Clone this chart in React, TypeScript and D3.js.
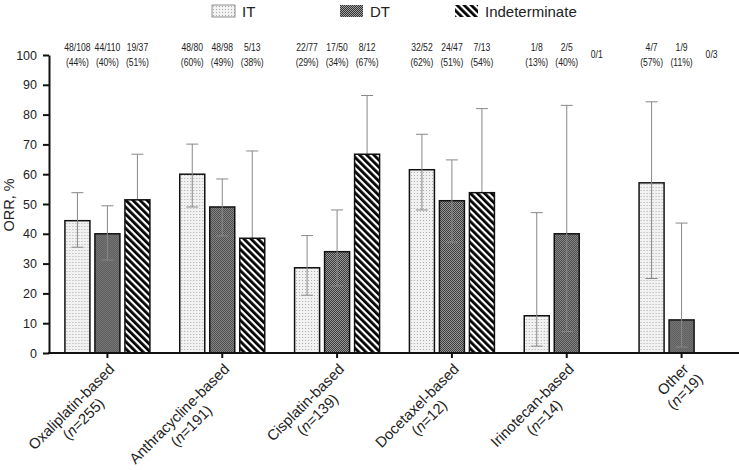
import React, { useEffect, useRef } from 'react';
import * as d3 from 'd3';

// categories and group sizes
const categories = ['Oxaliplatin-based', 'Anthracycline-based', 'Cisplatin-based', 'Docetaxel-based', 'Irinotecan-based', 'Other'];
const categoryN = ['255', '191', '139', '12', '14', '19'];
const seriesNames = ['IT', 'DT', 'Indeterminate'];

// ORR % per series
const itValues = [44.4, 60.0, 28.6, 61.5, 12.5, 57.1];
const dtValues = [40.0, 49.0, 34.0, 51.1, 40.0, 11.1];
const indValues = [51.4, 38.5, 66.7, 53.8, 0, 0];

// 95% CI [low, high]
const itCI = [[35.5, 53.8], [49.0, 70.1], [19.4, 39.4], [48.0, 73.4], [2.3, 47.1], [25.0, 84.3]];
const dtCI = [[31.2, 49.4], [39.3, 58.4], [22.5, 48.0], [37.2, 64.8], [7.2, 83.1], [2.0, 43.6]];
const indCI = [[36.0, 66.7], [17.0, 67.8], [39.0, 86.4], [29.0, 82.0], null, null];

// responders / total
const itCounts = ['48/108', '48/80', '22/77', '32/52', '1/8', '4/7'];
const dtCounts = ['44/110', '48/98', '17/50', '24/47', '2/5', '1/9'];
const indCounts = ['19/37', '5/13', '8/12', '7/13', '0/1', '0/3'];
const itPct = ['44%', '60%', '29%', '62%', '13%', '57%'];
const dtPct = ['40%', '49%', '34%', '51%', '40%', '11%'];
const indPct = ['51%', '38%', '67%', '54%', null, null];

const yTicks = [0, 10, 20, 30, 40, 50, 60, 70, 80, 90, 100];

const W = 739;
const H = 470;
const FONT = '"Liberation Sans", Arial, sans-serif';

const App = () => {
  const svgRef = useRef(null);

  useEffect(() => {
    const svg = d3.select(svgRef.current);
    svg.selectAll('*').remove();

    const rows = categories.map((c, i) => ({
      cat: c,
      n: categoryN[i],
      bars: [
        { s: 'IT', v: itValues[i], ci: itCI[i], count: itCounts[i], pct: itPct[i] },
        { s: 'DT', v: dtValues[i], ci: dtCI[i], count: dtCounts[i], pct: dtPct[i] },
        { s: 'Indeterminate', v: indValues[i], ci: indCI[i], count: indCounts[i], pct: indPct[i] },
      ],
    }));

    const axisX = 49;
    const x0 = d3.scaleBand().domain(categories).range([50, 739]).padding(0);
    const x1 = d3.scaleBand().domain(seriesNames).range([-42.5, 42.5]).paddingInner(1 / 6);
    const y = d3.scaleLinear().domain([0, 100]).range([353, 55]);
    const cx = (c) => x0(c) + x0.bandwidth() / 2;

    // patterns
    const defs = svg.append('defs');
    const pIT = defs.append('pattern').attr('id', 'pIT').attr('patternUnits', 'userSpaceOnUse')
      .attr('width', 3).attr('height', 3);
    pIT.append('rect').attr('width', 3).attr('height', 3).attr('fill', '#f2f2f2');
    pIT.append('rect').attr('x', 1).attr('y', 1).attr('width', 1).attr('height', 1).attr('fill', '#aaa');

    const pDT = defs.append('pattern').attr('id', 'pDT').attr('patternUnits', 'userSpaceOnUse')
      .attr('width', 2).attr('height', 2);
    pDT.append('rect').attr('width', 2).attr('height', 2).attr('fill', '#a0a0a0');
    pDT.append('rect').attr('width', 1).attr('height', 1).attr('fill', '#333');
    pDT.append('rect').attr('x', 1).attr('y', 1).attr('width', 1).attr('height', 1).attr('fill', '#333');

    const pIn = defs.append('pattern').attr('id', 'pIN').attr('patternUnits', 'userSpaceOnUse')
      .attr('width', 5).attr('height', 5).attr('patternTransform', 'rotate(-45)');
    pIn.append('rect').attr('width', 5).attr('height', 5).attr('fill', '#fff');
    pIn.append('rect').attr('width', 2.8).attr('height', 5).attr('fill', '#000');

    const fillFor = (s) => (s === 'IT' ? 'url(#pIT)' : s === 'DT' ? 'url(#pDT)' : 'url(#pIN)');

    // legend
    const legendPos = [212, 340, 455];
    seriesNames.forEach((s, i) => {
      const lg = svg.append('g').attr('transform', `translate(${legendPos[i]},5)`);
      lg.append('rect').attr('width', 23).attr('height', 12).attr('fill', fillFor(s))
        .attr('stroke', s === 'IT' ? '#777' : 'none').attr('stroke-width', 0.8);
      lg.append('text').attr('x', 30).attr('y', 11.5).attr('font-family', FONT)
        .attr('font-size', 15).attr('fill', '#222').text(s);
    });

    const groups = svg.selectAll('.grp').data(rows).enter().append('g')
      .attr('class', 'grp')
      .attr('transform', (d) => `translate(${cx(d.cat)},0)`);

    // IT and DT bars
    groups.selectAll('.bar').data((d) => d.bars.filter((b) => b.s !== 'Indeterminate' && b.v > 0))
      .enter().append('rect')
      .attr('x', (b) => x1(b.s)).attr('width', x1.bandwidth())
      .attr('y', (b) => y(b.v)).attr('height', (b) => y(0) - y(b.v))
      .attr('fill', (b) => fillFor(b.s)).attr('stroke', '#111').attr('stroke-width', 1.5);

    // error bars
    const eb = groups.selectAll('.eb').data((d) => d.bars.filter((b) => b.ci)).enter().append('g')
      .attr('transform', (b) => `translate(${x1(b.s) + x1.bandwidth() / 2},0)`)
      .attr('stroke', '#888').attr('stroke-width', 1);
    eb.append('line').attr('y1', (b) => y(b.ci[0])).attr('y2', (b) => y(b.ci[1]));
    eb.append('line').attr('x1', -6).attr('x2', 6).attr('y1', (b) => y(b.ci[1])).attr('y2', (b) => y(b.ci[1]));
    eb.append('line').attr('x1', -6).attr('x2', 6).attr('y1', (b) => y(b.ci[0])).attr('y2', (b) => y(b.ci[0]));

    // Indeterminate bars on top
    groups.selectAll('.ibar').data((d) => d.bars.filter((b) => b.s === 'Indeterminate' && b.v > 0))
      .enter().append('rect')
      .attr('x', (b) => x1(b.s)).attr('width', x1.bandwidth())
      .attr('y', (b) => y(b.v)).attr('height', (b) => y(0) - y(b.v))
      .attr('fill', (b) => fillFor(b.s)).attr('stroke', '#111').attr('stroke-width', 1.5);

    // count labels (condensed)
    groups.selectAll('.lab').data((d) => d.bars).enter().append('text')
      .attr('text-anchor', 'middle').attr('font-family', FONT).attr('font-size', 10).attr('fill', '#222')
      .attr('transform', (b) => `translate(${x1(b.s) + x1.bandwidth() / 2},0) scale(0.86,1)`)
      .each(function (b) {
        const t = d3.select(this);
        if (b.pct) {
          t.append('tspan').attr('x', 0).attr('y', 51).text(b.count);
          t.append('tspan').attr('x', 0).attr('y', 66).text(`(${b.pct})`);
        } else {
          t.attr('y', 58).text(b.count);
        }
      });

    // axes
    const yAxis = svg.append('g').attr('transform', `translate(${axisX},0)`)
      .call(d3.axisLeft(y).tickValues(yTicks).tickSize(6).tickSizeOuter(0).tickPadding(6));
    yAxis.select('.domain').attr('stroke-width', 2).attr('stroke', '#111');
    yAxis.selectAll('.tick line').attr('stroke-width', 2).attr('stroke', '#111');
    yAxis.selectAll('text').attr('font-family', FONT).attr('font-size', 12.5).attr('fill', '#222');

    svg.append('line').attr('x1', axisX - 1).attr('x2', W).attr('y1', y(0)).attr('y2', y(0))
      .attr('stroke', '#111').attr('stroke-width', 2);
    svg.selectAll('.xt').data(categories).enter().append('line')
      .attr('x1', (c) => cx(c)).attr('x2', (c) => cx(c)).attr('y1', y(0)).attr('y2', y(0) + 5)
      .attr('stroke', '#111').attr('stroke-width', 2);

    svg.append('text').attr('transform', `translate(14,${(y(0) + y(100)) / 2 + 1}) rotate(-90)`)
      .attr('text-anchor', 'middle').attr('font-family', FONT).attr('font-size', 14.5).attr('fill', '#222')
      .text('ORR, %');

    // category labels (rotated, two centred lines)
    rows.forEach((r) => {
      const g = svg.append('g').attr('transform', `translate(${cx(r.cat) + 8},${y(0) + 17}) rotate(-45)`);
      const t1 = g.append('text').attr('text-anchor', 'end').attr('font-family', FONT)
        .attr('font-size', 14.8).attr('fill', '#222').attr('x', 0).attr('y', 0).text(r.cat);
      const w = t1.node().getComputedTextLength();
      const t2 = g.append('text').attr('text-anchor', 'middle').attr('font-family', FONT)
        .attr('font-size', 14.8).attr('fill', '#222').attr('x', -w / 2).attr('y', 17);
      t2.append('tspan').text('(');
      t2.append('tspan').attr('font-style', 'italic').text('n');
      t2.append('tspan').text(`=${r.n})`);
    });
  }, []);

  return (
    <svg ref={svgRef} width={W} height={H} style={{ display: 'block', position: 'absolute', left: 0, top: 0, background: '#fff' }} />
  );
};

export default App;
